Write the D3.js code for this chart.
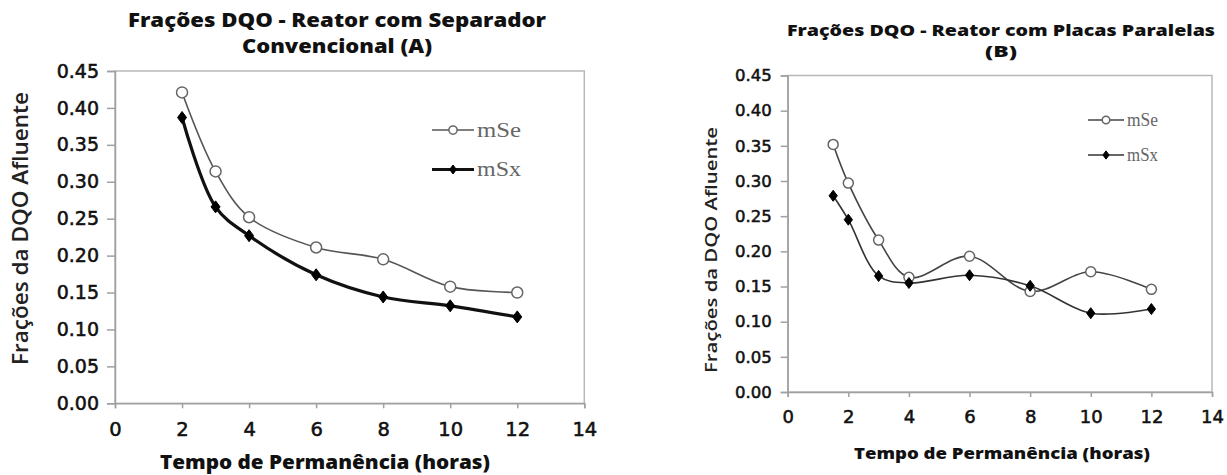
<!DOCTYPE html>
<html><head><meta charset="utf-8">
<script src="https://cdn.jsdelivr.net/npm/d3@7"></script>
<style>body{margin:0;background:#fff}svg{display:block}</style>
</head><body>
<svg id="c" width="1227" height="475"></svg>
<script>
// Chart A data
const hoursA = [2, 3, 4, 6, 8, 10, 12];
const mSeA = [0.421, 0.314, 0.252, 0.211, 0.195, 0.158, 0.150];
const mSxA = [0.387, 0.266, 0.227, 0.174, 0.144, 0.132, 0.117];
// Chart B data
const hoursB = [1.5, 2, 3, 4, 6, 8, 10, 12];
const mSeB = [0.352, 0.297, 0.216, 0.163, 0.193, 0.143, 0.171, 0.146];
const mSxB = [0.279, 0.245, 0.165, 0.155, 0.166, 0.151, 0.112, 0.118];
// Ticks / labels
const xTicks = [0, 2, 4, 6, 8, 10, 12, 14];
const yTicks = [0, 0.05, 0.10, 0.15, 0.20, 0.25, 0.30, 0.35, 0.40, 0.45];
const seriesNames = ["mSe", "mSx"];
const titleA = ["Frações DQO - Reator com Separador", "Convencional (A)"];
const titleB = ["Frações DQO - Reator com Placas Paralelas", "(B)"];
const xTitle = "Tempo de Permanência (horas)";
const yTitle = "Frações da DQO Afluente";

const svg = d3.select("#c");

function drawChart(o) {
  const g = svg.append("g");
  const x = d3.scaleLinear().domain([0, 14]).range([o.left, o.right]);
  const y = d3.scaleLinear().domain([0, 0.45]).range([o.bottom, o.top]);
  // frame
  g.append("rect").attr("x", o.left).attr("y", o.top)
    .attr("width", o.right - o.left).attr("height", o.bottom - o.top)
    .attr("fill", "none").attr("stroke", "#b8b8b8").attr("stroke-width", 1.5);
  // axes
  const ya = g.append("g").attr("transform", `translate(${o.left},0)`)
    .call(d3.axisLeft(y).tickValues(yTicks).tickFormat(d3.format(".2f")).tickSize(o.yTickLen).tickPadding(o.yPad));
  const xa = g.append("g").attr("transform", `translate(0,${o.bottom})`)
    .call(d3.axisBottom(x).tickValues(xTicks).tickFormat(d3.format("d")).tickSize(5).tickPadding(o.xPad));
  [ya, xa].forEach(a => {
    a.select(".domain").attr("stroke", "#a0a0a0").attr("stroke-width", 1.5);
    a.selectAll(".tick line").attr("stroke", "#a0a0a0").attr("stroke-width", 1.5);
    a.selectAll("text").attr("fill", "#111").attr("stroke", "#111").attr("stroke-width", 0.55)
      .attr("font-family", "DejaVu Sans");
  });
  ya.selectAll("text").attr("font-size", o.yTickSize);
  xa.selectAll("text").attr("font-size", o.xTickSize);

  // titles
  o.title.forEach((s, i) => {
    g.append("text").attr("x", o.titleX).attr("y", o.titleY[i]).attr("text-anchor", "middle")
      .attr("font-family", "Open Sans").attr("font-weight", 800)
      .attr("font-size", o.titleSize).attr("fill", "#111")
      .attr("textLength", o.titleLen[i]).attr("lengthAdjust", "spacingAndGlyphs").text(s);
  });
  g.append("text").attr("x", o.xTitleX).attr("y", o.xTitleY).attr("text-anchor", "middle")
    .attr("font-family", "Open Sans").attr("font-weight", 800).attr("font-size", o.xTitleSize)
    .attr("textLength", o.xTitleLen).attr("lengthAdjust", "spacingAndGlyphs")
    .attr("fill", "#111").text(xTitle);
  g.append("text").attr("transform", `translate(${o.yTitleX},${o.yTitleY}) rotate(-90)`)
    .attr("text-anchor", "middle").attr("font-family", "Open Sans").attr("font-weight", 600)
    .attr("font-size", o.yTitleSize).attr("fill", "#222")
    .attr("textLength", o.yTitleLen).attr("lengthAdjust", "spacingAndGlyphs").text(yTitle);

  const line = d3.line().x(d => x(d[0])).y(d => y(d[1])).curve(d3.curveCatmullRom.alpha(0.5));
  const series = [
    {vals: o.mSe, color: o.seColor, width: o.seWidth, marker: "circle"},
    {vals: o.mSx, color: o.sxColor, width: o.sxWidth, marker: "diamond"}
  ];
  const diamond = (s) => `M0,${-s}L${s*0.75},0L0,${s}L${-s*0.75},0Z`;
  function marker(sel, type, cx, cy, k) {
    if (type === "circle") {
      sel.append("circle").attr("cx", cx).attr("cy", cy).attr("r", o.circR * k)
        .attr("fill", "#fff").attr("stroke", "#666").attr("stroke-width", 1.5);
    } else {
      sel.append("path").attr("d", diamond(o.diaS * k)).attr("transform", `translate(${cx},${cy})`)
        .attr("fill", "#000").attr("stroke", "#000").attr("stroke-width", 1);
    }
  }
  series.forEach(s => {
    const pts = o.hours.map((h, i) => [h, s.vals[i]]);
    g.append("path").datum(pts).attr("d", line).attr("fill", "none")
      .attr("stroke", s.color).attr("stroke-width", s.width);
    pts.forEach(p => marker(g, s.marker, x(p[0]), y(p[1]), 1));
  });
  // legend
  series.forEach((s, i) => {
    const ly = o.legY + i * o.legGap;
    g.append("line").attr("x1", o.legX).attr("x2", o.legX + o.legLen)
      .attr("y1", ly).attr("y2", ly).attr("stroke", s.color).attr("stroke-width", s.width);
    marker(g, s.marker, o.legX + o.legLen / 2, ly, 0.75);
    g.append("text").attr("x", o.legX + o.legLen + 3).attr("y", ly + o.legSize * 0.33)
      .attr("font-family", "Liberation Serif").attr("font-size", o.legSize)
      .attr("textLength", o.legTextLen).attr("lengthAdjust", "spacingAndGlyphs")
      .attr("fill", "#666").text(seriesNames[i]);
  });
}

drawChart({
  left: 115, right: 584.3, top: 71, bottom: 403.3,
  hours: hoursA, mSe: mSeA, mSx: mSxA,
  seColor: "#555", seWidth: 1.6, sxColor: "#111", sxWidth: 3.2,
  circR: 5.5, diaS: 6,
  yTickSize: 19, xTickSize: 19.5, xPad: 14, yTickLen: 8, yPad: 8,
  title: titleA, titleX: 337, titleY: [27, 53], titleLen: [418, 190], titleSize: 18.5,
  xTitleX: 325, xTitleY: 469, xTitleSize: 19, xTitleLen: 330,
  yTitleX: 28, yTitleY: 228.5, yTitleSize: 21, yTitleLen: 273,
  legX: 432, legLen: 42, legY: 130, legGap: 39.5, legSize: 20, legTextLen: 44
});
drawChart({
  left: 787.7, right: 1212, top: 75.5, bottom: 392,
  hours: hoursB, mSe: mSeB, mSx: mSxB,
  seColor: "#444", seWidth: 1.6, sxColor: "#333", sxWidth: 1.6,
  circR: 5, diaS: 5.5,
  yTickSize: 16.5, xTickSize: 18, xPad: 13, yTickLen: 7, yPad: 9,
  title: titleB, titleX: 1001, titleY: [36, 57], titleLen: [428, 32], titleSize: 15.4,
  xTitleX: 1002, xTitleY: 459, xTitleSize: 16, xTitleLen: 296,
  yTitleX: 717, yTitleY: 250, yTitleSize: 16.5, yTitleLen: 246,
  legX: 1088, legLen: 36, legY: 120, legGap: 35, legSize: 18, legTextLen: 31
});
</script>
</body></html>
